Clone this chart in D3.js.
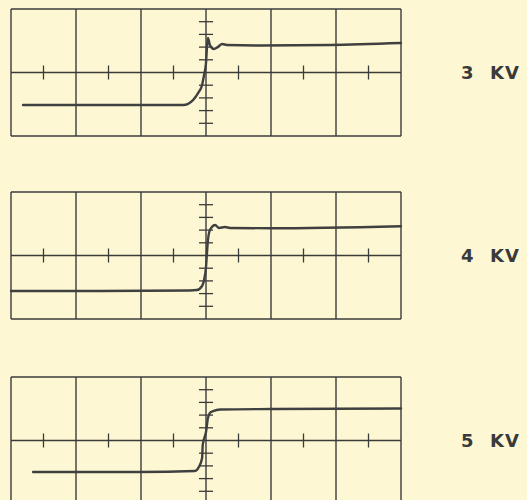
<!DOCTYPE html>
<html>
<head>
<meta charset="utf-8">
<script src="https://cdn.jsdelivr.net/npm/d3@7"></script>
<style>
  html, body { margin: 0; padding: 0; background: #fdf8d3; }
  svg { display: block; }
</style>
</head>
<body>
<svg id="chart" width="527" height="500"></svg>
<script>
// ---- data (x in horizontal divisions 0..6, y in minor vertical divisions -5..5) ----
const labelNums = ["3", "4", "5"];
const labelUnit = "KV";

const trace3kvX = [0.185, 1.68, 2.65, 2.80, 2.88, 2.94, 2.97, 3.00, 3.015, 3.03, 3.06, 3.12, 3.18, 3.25, 3.32, 3.83, 4.91, 6.0];
const trace3kvY = [-2.56, -2.56, -2.56, -2.17, -1.61, -0.98, -0.2, 0.75, 2.0, 2.72, 2.17, 1.85, 2.0, 2.24, 2.17, 2.13, 2.17, 2.32];

const trace4kvX = [0.0, 1.37, 2.75, 2.86, 2.94, 2.97, 3.0, 3.015, 3.03, 3.05, 3.09, 3.14, 3.2, 3.29, 3.37, 4.0, 6.0];
const trace4kvY = [-2.8, -2.8, -2.76, -2.72, -2.4, -1.93, -0.91, 0.2, 1.22, 1.85, 2.24, 2.4, 2.17, 2.24, 2.17, 2.14, 2.30];

const trace5kvX = [0.34, 1.98, 2.83, 2.89, 2.94, 2.95, 3.0, 3.03, 3.06, 3.11, 3.22, 4.0, 6.0];
const trace5kvY = [-2.48, -2.48, -2.4, -2.09, -1.38, -0.35, 0.67, 1.77, 2.17, 2.32, 2.44, 2.48, 2.52];

const traceXs = [trace3kvX, trace4kvX, trace5kvX];
const traceYs = [trace3kvY, trace4kvY, trace5kvY];

const majorX = [0, 1, 2, 3, 4, 5, 6];
const majorY = [-5, 0, 5];
const minorX = [0.5, 1.5, 2.5, 3.5, 4.5, 5.5];
const minorY = [-4, -3, -2, -1, 1, 2, 3, 4];

// ---- layout ----
const panelTops = [9, 192, 377];
const panelH = 127;
const left = 11, right = 401;
const ink = "#3b3b3b";

const svg = d3.select("#chart");
const x = d3.scaleLinear().domain([0, 6]).range([left, right]);

panelTops.forEach((top, i) => {
  const y = d3.scaleLinear().domain([-5, 5]).range([top + panelH, top]);
  const g = svg.append("g");

  // major grid
  g.selectAll(".vx").data(majorX).join("line")
    .attr("x1", d => x(d)).attr("x2", d => x(d))
    .attr("y1", y(-5)).attr("y2", y(5))
    .attr("stroke", ink).attr("stroke-width", 1.4);
  g.selectAll(".hy").data(majorY).join("line")
    .attr("x1", x(0)).attr("x2", x(6))
    .attr("y1", d => y(d)).attr("y2", d => y(d))
    .attr("stroke", ink).attr("stroke-width", 1.4);

  // minor ticks on centre horizontal
  g.selectAll(".mx").data(minorX).join("line")
    .attr("x1", d => x(d)).attr("x2", d => x(d))
    .attr("y1", y(0) - 7).attr("y2", y(0) + 7)
    .attr("stroke", ink).attr("stroke-width", 1.3);
  // minor ticks on centre vertical
  g.selectAll(".my").data(minorY).join("line")
    .attr("x1", x(3) - 7).attr("x2", x(3) + 7)
    .attr("y1", d => y(d)).attr("y2", d => y(d))
    .attr("stroke", ink).attr("stroke-width", 1.3);

  // trace
  const pts = traceXs[i].map((v, k) => [v, traceYs[i][k]]);
  const line = d3.line().x(d => x(d[0])).y(d => y(d[1])).curve(d3.curveMonotoneX);
  g.append("path").attr("d", line(pts))
    .attr("fill", "none").attr("stroke", "#404040")
    .attr("stroke-width", 2.4).attr("stroke-linejoin", "round").attr("stroke-linecap", "round");

  // label
  const t = svg.append("text")
    .attr("y", y(0))
    .attr("dy", "0.36em")
    .attr("font-family", "DejaVu Sans, sans-serif")
    .attr("font-weight", "bold")
    .attr("font-size", 18)
    .attr("letter-spacing", "1px")
    .attr("fill", "#3a3a3a");
  t.append("tspan").attr("x", 461).text(labelNums[i]);
  t.append("tspan").attr("x", 490).text(labelUnit);
});
</script>
</body>
</html>
